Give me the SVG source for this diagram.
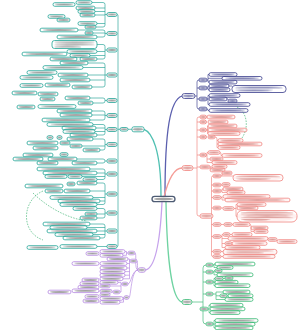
<svg xmlns="http://www.w3.org/2000/svg" width="300" height="330" viewBox="0 0 300 330">
<defs>
<pattern id="p1" patternContentUnits="objectBoundingBox" width="1" height="1"><rect width="1" height="1" fill="#fff"/><rect x="0.08" y="0.27" width="0.84" height="0.46" fill="#a2a2a2"/></pattern>
<pattern id="p2" patternContentUnits="objectBoundingBox" width="1" height="1"><rect width="1" height="1" fill="#fff"/><rect x="0.06" y="0.18" width="0.88" height="0.26" fill="#a2a2a2"/><rect x="0.06" y="0.56" width="0.7" height="0.26" fill="#a2a2a2"/></pattern>
<pattern id="p3" patternContentUnits="objectBoundingBox" width="1" height="1"><rect width="1" height="1" fill="#fff"/><rect x="0.05" y="0.14" width="0.9" height="0.18" fill="#a2a2a2"/><rect x="0.05" y="0.41" width="0.9" height="0.18" fill="#a2a2a2"/><rect x="0.05" y="0.68" width="0.6" height="0.18" fill="#a2a2a2"/></pattern>
<pattern id="pn" patternContentUnits="objectBoundingBox" width="1" height="1"><rect width="1" height="1" fill="#fff"/><rect x="0.08" y="0.27" width="0.84" height="0.46" fill="#8587b5"/></pattern>
<pattern id="pn2" patternContentUnits="objectBoundingBox" width="1" height="1"><rect width="1" height="1" fill="#fff"/><rect x="0.06" y="0.18" width="0.88" height="0.26" fill="#8587b5"/><rect x="0.06" y="0.56" width="0.7" height="0.26" fill="#8587b5"/></pattern>
<pattern id="pr" patternContentUnits="objectBoundingBox" width="1" height="1"><rect width="1" height="1" fill="#fff1f0"/><rect x="0.08" y="0.27" width="0.84" height="0.46" fill="#dd9e9a"/></pattern>
<pattern id="pr2" patternContentUnits="objectBoundingBox" width="1" height="1"><rect width="1" height="1" fill="#fff1f0"/><rect x="0.06" y="0.18" width="0.88" height="0.26" fill="#dd9e9a"/><rect x="0.06" y="0.56" width="0.7" height="0.26" fill="#dd9e9a"/></pattern>
<pattern id="pr4" patternContentUnits="objectBoundingBox" width="1" height="1"><rect width="1" height="1" fill="#fff1f0"/><rect x="0.06" y="0.13" width="0.88" height="0.14" fill="#dd9e9a"/><rect x="0.06" y="0.33" width="0.88" height="0.14" fill="#dd9e9a"/><rect x="0.06" y="0.53" width="0.88" height="0.14" fill="#dd9e9a"/><rect x="0.06" y="0.73" width="0.5" height="0.14" fill="#dd9e9a"/></pattern>
</defs>
<style>
rect{stroke-width:.8;rx:1.8px}
.tl rect{fill:url(#p1);stroke:#22a396}
.nv rect{fill:url(#pn);stroke:#383c8c}
.rd rect{fill:url(#pr);stroke:#f0837d}
.gr rect{fill:url(#p1);stroke:#36b872}
.pu rect{fill:url(#p1);stroke:#b486e0}
.ct path{fill:none;stroke-width:.65}
.ct .m{stroke-width:1.3}
.c1{stroke:#22a396}.c2{stroke:#383c8c}.c3{stroke:#f0837d}.c4{stroke:#36b872}.c5{stroke:#b486e0}
.dash{stroke:#3cb371;stroke-dasharray:1.6 1.2;stroke-width:.7}
</style>
<g id="connectors" class="ct">
<path class="m" stroke="#4fc0b2" d="M161,196 C161,150 152,132 144,129.3"/>
<path class="m" stroke="#5b5fae" d="M165,196 C165,130 170,100 182,96"/>
<path class="m" stroke="#f59d97" d="M164,197 C167,185 172,168 182,168"/>
<path class="m" stroke="#c6a3ec" d="M162,202 C160,245 155,268 145.5,270"/>
<path class="m" stroke="#6fd3a2" d="M166,202 C167,260 172,300 182,302"/>
<path class="c1" d="M117,14.5 Q118,14.5 118,15.5 V245.5 Q118,246.5 117,246.5 M118,129.3 H120 M128,129.3 H132
M92,2.5 H103 Q105,2.5 105,4.5 V25 Q105,27 103,27 H96 M95,8 H105 M95,11.5 H105 M95,15 H105 M97,23.5 H105 M105,14.5 H107
M78,30 H103 Q105,30 105,32 V35 Q105,37 103,37 H97 M93,33 H105 M105,33.5 H107
M97,44.5 H103 Q105,44.5 105,46.5 V57 Q105,59 103,59 H97 M97,51.5 H105 M90,55.5 H105 M105,50 H107
M88,63 H103 Q105,63 105,65 V85 Q105,87 103,87 H92 M83,67.5 H105 M88,75 H105 M90,80 H105 M105,75 H107
M90,98 H103 Q105,98 105,100 V101 Q105,103 103,103 H93 M105,100.5 H107
M92,111 H103 Q105,111 105,113 V118 Q105,120 103,120 H90 M92,115 H105 M105,115.5 H107
M93,124.5 H103 Q105,124.5 105,126.5 V133 Q105,135 103,135 H97 M96,128 H105 M95,131.5 H105 M105,129.5 H107
M93,139 H103 Q105,139 105,141 V148 Q105,150 103,150 H100 M82,146 H105 M105,144.5 H107
M77,159 H103 Q105,159 105,161 Q105,163 103,163 H97 M105,161 H107
M90,169 H103 Q105,169 105,171 V177.5 Q105,179.5 103,179.5 H97 M97,173 H105 M82,176.5 H105 M105,174 H107
M97,183 H103 Q105,183 105,185 V202.5 Q105,204.5 103,204.5 H97 M90,191 H105 M93,197.5 H105 M100,201 H105 M105,194 H107
M97,208.5 H103 Q105,208.5 105,210.5 V216 Q105,218 103,218 H97 M97,214 H105 M105,213 H107
M90,224 H103 Q105,224 105,226 V236 Q105,238 103,238 H100 M87,227.5 H105 M97,231 H105 M93,234.5 H105 M105,231 H107
M97,246.5 H107"/>
<path class="dash" d="M43,191 C22,200 20,232 43,240 M33,193 C45,205 65,218 87,221 M237,107 C246,111 250,126 242,138"/>
<path class="c2" d="M195,96 H197 M199,80 Q197,80 197,82 V107 Q197,109 199,109 M197,88 H199 M197,99 H199
M207,80 H208 M208,74.5 V82.1 M208,74.5 H209 M208,82.1 H209 M208,78.3 H222
M207,88 H208 M208,86 V89.8 M208,86 H209 M208,89.8 H209 M229,86 H232
M207,99 H208 M208,95.5 V104.5 M208,95.5 H209 M208,104.5 H209 M227,99 H228
M207,109 Q208,109 208,110.5 H209"/>
<path class="c3" d="M193,168 H197 M200,117 H199 Q197,117 197,119 V214 Q197,216 199,216 H200 M197,122 H200 M197,130 H200 M197,137 H200 M197,155 H200 M197,167 H200
M206.5,130 H207.5 M207.5,126 V133.5 M207.5,126 H208 M207.5,133.5 H208
M215,137 Q217,137 217,139 V147.5 M217,140.5 H218 M217,144 H218 M217,147.5 H218
M206.5,155 H207 M207,152.5 V162.5 M207,152.5 H208 M207,159 H210 M207,162.5 H212 M220,152.5 Q221,152.5 221,154 V155.5 H222
M210,167 H211 M211,166.5 V170
M213,176 Q211.5,176 211.5,177.5 V255 Q211.5,256.5 213,256.5 M211.5,185 H213 M211.5,191 H213 M211.5,197.5 H213 M211.5,208 H213 M211.5,224.5 H213 M211.5,236.5 H213 M211.5,251.5 H213
M221,176 H233 M222,176 V173
M221,185 H222 M221,191 H222 M222,189 V192.5 M222,189 H223 M222,192.5 H227
M221,197.5 H222 M222,196.5 V200 M222,200 H225
M221,208 H223 M234,208.5 H236 M236,204.5 V216.25 M236,204.5 H237 M236,216.25 H237
M221,224.5 H224 M232,224.5 H233 M250,224.5 Q251,224.5 251,226 V231.5 H254
M221,236.5 H222 M222,234.5 V247.5 M222,234.5 H223 M222,238.5 H228 M222,243.5 H225 M222,247.5 H225 M230,234.5 H232
M221,251.5 H223 M221,256.5 H223"/>
<path class="c4" d="M192,302 H203 M206,265 Q203,265 203,268 V321 Q203,324 206,324 M203,272 H206 M203,282 H206 M203,294 H206
M213,265 H214 M214,264 V267.5 M214,264 H215 M214,267.5 H217
M213,272 H214 M214,270.8 V274.8 M214,270.8 H215 M214,274.8 H217
M213,282 H214 M214,278.5 V285.7 M214,278.5 H215 M214,282.2 H215 M214,285.7 H215 M223,278.5 H225
M213,294 H216 M216,292 V299.5 M216,292 H223 M216,295.8 H220 M216,299.5 H225 M227,295.8 H228
M208,309 H209 M209,305.2 V312.6 M209,305.2 H210 M209,312.6 H210
M213,324 H214 M214,320.5 V327.9 M214,320.5 H215 M214,327.9 H215"/>
<path class="c5" d="M138,270 C134,270 137,253 135,253 M138,270 C137,270 138,261 137,261 M138,270 C132,270 131,284 128,284 M138,270 C131,270 131,297.5 129,297.5
M128,253 H126.5 M126.5,251.5 V255.3 M126.5,251.5 H125 M126.5,255.3 H123
M130,261 H129.5 M129.5,259 V278.8 M129.5,259 H128 M129.5,263.5 H127 M129.5,268 H127 M129.5,271.6 H125 M129.5,275.2 H125 M129.5,278.8 H123
M122,284 H121 M121,282.4 V292 M121,282.4 H118 M121,286 H110 M121,292 H120 M113,292 H112
M124,297.5 H123.5 V302.2 H120"/>
</g>
<g id="n0"><rect x="152" y="196.3" width="23" height="5.4" style="rx:2.7px;stroke:#4d5b73;stroke-width:1.3;fill:url(#p1)"/></g>
<g class="tl">
<g id="t0"><rect x="132" y="126.8" width="12" height="5"/></g>
<g id="t00"><rect x="120" y="127.5" width="8" height="3.6"/></g>
<g id="t1"><rect x="107" y="12.5" width="10" height="4"/></g>
<g id="t2"><rect x="107" y="31.5" width="10" height="4"/></g>
<g id="t3"><rect x="107" y="48" width="10" height="4"/></g>
<g id="t4"><rect x="107" y="73" width="10" height="4"/></g>
<g id="t5"><rect x="107" y="98.5" width="10" height="4"/></g>
<g id="t6"><rect x="107" y="113.5" width="10" height="4"/></g>
<g id="t7"><rect x="107" y="127.5" width="10" height="4"/></g>
<g id="t8"><rect x="107" y="142.5" width="10" height="4"/></g>
<g id="t9"><rect x="107" y="159" width="10" height="4"/></g>
<g id="t10"><rect x="107" y="172" width="10" height="4"/></g>
<g id="t11"><rect x="107" y="192" width="10" height="4"/></g>
<g id="t12"><rect x="107" y="211" width="10" height="4"/></g>
<g id="t13"><rect x="107" y="229" width="10" height="4"/></g>
<g id="t14"><rect x="107" y="244.5" width="10" height="4"/></g>
<g id="ta1"><rect x="76" y="0.7" width="16" height="3.6"/></g>
<g id="ta2"><rect x="53" y="2.7" width="22" height="3.6"/></g>
<g id="ta3"><rect x="76" y="6.2" width="19" height="3.6"/></g>
<g id="ta4"><rect x="78" y="9.7" width="17" height="3.6"/></g>
<g id="ta5"><rect x="80" y="13.2" width="15" height="3.6"/></g>
<g id="ta6"><rect x="48" y="14.7" width="17" height="3.6"/></g>
<g id="ta7"><rect x="57" y="18.2" width="13" height="3.6"/></g>
<g id="ta8"><rect x="78" y="21.7" width="19" height="3.6"/></g>
<g id="ta9"><rect x="85" y="25.2" width="11" height="3.6"/></g>
<g id="tb1"><rect x="40" y="28.2" width="38" height="3.6"/></g>
<g id="tb2"><rect x="85" y="31.2" width="8" height="3.6"/></g>
<g id="tb3"><rect x="57" y="35.2" width="40" height="3.6"/></g>
<g id="tc1"><rect x="52" y="40.5" width="45" height="8" style="rx:2.5px;fill:url(#p3)"/></g>
<g id="tc2"><rect x="67" y="49.7" width="30" height="3.6"/></g>
<g id="tc3"><rect x="22" y="52.2" width="45" height="3.6"/></g>
<g id="tc4"><rect x="70" y="53.7" width="20" height="3.6"/></g>
<g id="tc5"><rect x="50" y="57.2" width="27" height="3.6"/></g>
<g id="tc6"><rect x="80" y="57.2" width="17" height="3.6"/></g>
<g id="td1"><rect x="60" y="61.2" width="28" height="3.6"/></g>
<g id="td2"><rect x="43" y="65.7" width="40" height="3.6"/></g>
<g id="td3"><rect x="27" y="70.7" width="30" height="3.6"/></g>
<g id="td4"><rect x="58" y="73.2" width="30" height="3.6"/></g>
<g id="td5"><rect x="20" y="75.7" width="33" height="3.6"/></g>
<g id="td6"><rect x="60" y="78.2" width="30" height="3.6"/></g>
<g id="td7"><rect x="20" y="83.7" width="23" height="3.6"/></g>
<g id="td8"><rect x="45" y="83.2" width="25" height="3.6"/></g>
<g id="td9"><rect x="72" y="85.2" width="20" height="3.6"/></g>
<g id="te1"><rect x="12" y="91.2" width="25" height="3.6"/></g>
<g id="te2"><rect x="38" y="92.2" width="20" height="3.6"/></g>
<g id="te3"><rect x="65" y="96.2" width="25" height="3.6"/></g>
<g id="te4"><rect x="40" y="97.2" width="15" height="3.6"/></g>
<g id="te5"><rect x="78" y="101.2" width="15" height="3.6"/></g>
<g id="tf1"><rect x="17" y="105.2" width="18" height="3.6"/></g>
<g id="tf2"><rect x="38" y="104.7" width="38" height="3.6"/></g>
<g id="tf3"><rect x="57" y="109.2" width="35" height="3.6"/></g>
<g id="tf4"><rect x="60" y="113.2" width="32" height="3.6"/></g>
<g id="tf5"><rect x="42" y="118.2" width="48" height="3.6"/></g>
<g id="tg1"><rect x="47" y="122.7" width="46" height="3.6"/></g>
<g id="tg2"><rect x="62" y="126.2" width="34" height="3.6"/></g>
<g id="tg3"><rect x="63" y="129.7" width="32" height="3.6"/></g>
<g id="tg4"><rect x="70" y="133.2" width="27" height="3.6"/></g>
<g id="th1"><rect x="47" y="135.7" width="6" height="3.6"/></g>
<g id="th2"><rect x="57" y="135.7" width="5" height="3.6"/></g>
<g id="th3"><rect x="67" y="137.2" width="26" height="3.6"/></g>
<g id="th4"><rect x="27" y="141.2" width="31" height="3.6"/></g>
<g id="th5"><rect x="60" y="141.2" width="10" height="3.6"/></g>
<g id="th6"><rect x="70" y="144.2" width="12" height="3.6"/></g>
<g id="th7"><rect x="33" y="146.2" width="25" height="3.6"/></g>
<g id="th8"><rect x="83" y="148.2" width="17" height="3.6"/></g>
<g id="ti1"><rect x="23" y="153.2" width="30" height="3.6"/></g>
<g id="ti2"><rect x="60" y="152.7" width="8" height="3.6"/></g>
<g id="ti3"><rect x="13" y="157.2" width="30" height="3.6"/></g>
<g id="ti4"><rect x="48" y="157.2" width="29" height="3.6"/></g>
<g id="ti5"><rect x="37" y="161.2" width="21" height="3.6"/></g>
<g id="ti6"><rect x="72" y="161.2" width="25" height="3.6"/></g>
<g id="tj1"><rect x="37" y="167.2" width="53" height="3.6"/></g>
<g id="tj2"><rect x="43" y="171.2" width="54" height="3.6"/></g>
<g id="tj3"><rect x="45" y="174.7" width="22" height="3.6"/></g>
<g id="tj4"><rect x="68" y="174.7" width="14" height="3.6"/></g>
<g id="tj5"><rect x="83" y="177.7" width="14" height="3.6"/></g>
<g id="tk1"><rect x="25" y="184.2" width="38" height="3.6"/></g>
<g id="tk2"><rect x="67" y="182.2" width="8" height="3.6"/></g>
<g id="tk3"><rect x="77" y="181.2" width="20" height="3.6"/></g>
<g id="tk4"><rect x="45" y="189.2" width="18" height="3.6"/></g>
<g id="tk5"><rect x="64" y="189.2" width="26" height="3.6"/></g>
<g id="tk6"><rect x="50" y="195.7" width="43" height="3.6"/></g>
<g id="tk7"><rect x="58" y="199.2" width="42" height="3.6"/></g>
<g id="tk8"><rect x="60" y="202.7" width="37" height="3.6"/></g>
<g id="tl1"><rect x="73" y="206.7" width="24" height="3.6"/></g>
<g id="tl2"><rect x="85" y="212.2" width="12" height="3.6"/></g>
<g id="tl3"><rect x="80" y="216.2" width="17" height="3.6"/></g>
<g id="tm1"><rect x="43" y="222.2" width="47" height="3.6"/></g>
<g id="tm2"><rect x="50" y="225.7" width="37" height="3.6"/></g>
<g id="tm3"><rect x="47" y="229.2" width="50" height="3.6"/></g>
<g id="tm4"><rect x="55" y="232.7" width="38" height="3.6"/></g>
<g id="tm5"><rect x="63" y="236.2" width="37" height="3.6"/></g>
<g id="tn1"><rect x="27" y="245.7" width="31" height="3.6"/></g>
<g id="tn2"><rect x="60" y="244.7" width="37" height="3.6"/></g>
</g>
<g class="nv">
<g id="v0"><rect x="182" y="93.5" width="13" height="5" style="rx:2.5px"/></g>
<g id="v1"><rect x="199" y="78.2" width="8" height="3.6"/></g>
<g id="v2"><rect x="199" y="86.2" width="8" height="3.6"/></g>
<g id="v3"><rect x="199" y="97.2" width="8" height="3.6"/></g>
<g id="v4"><rect x="199" y="107.2" width="8" height="3.6"/></g>
<g id="v5"><rect x="209" y="72.7" width="28" height="3.6"/></g>
<g id="v6"><rect x="222" y="76.5" width="40" height="3.6"/></g>
<g id="v7"><rect x="209" y="80.3" width="28" height="3.6"/></g>
<g id="v8"><rect x="209" y="84.2" width="20" height="3.6"/></g>
<g id="v9"><rect x="232" y="85.5" width="54" height="7" style="rx:3px;fill:url(#pn2)"/></g>
<g id="v10"><rect x="209" y="88" width="21" height="3.6"/></g>
<g id="v11"><rect x="209" y="93.7" width="31" height="3.6"/></g>
<g id="v12"><rect x="209" y="97.2" width="18" height="3.6"/></g>
<g id="v13"><rect x="228" y="99.2" width="9" height="3.6"/></g>
<g id="v14"><rect x="209" y="102.7" width="41" height="3.6"/></g>
<g id="v15"><rect x="209" y="108.7" width="39" height="3.6"/></g>
</g>
<g class="rd">
<g id="r0"><rect x="182" y="165.5" width="11" height="5" style="rx:2.5px"/></g>
<g id="r1"><rect x="200" y="115.2" width="6.5" height="3.6"/></g>
<g id="r2"><rect x="200" y="120.2" width="6.5" height="3.6"/></g>
<g id="r3"><rect x="200" y="128.2" width="6.5" height="3.6"/></g>
<g id="r4"><rect x="200" y="135.2" width="6.5" height="3.6"/></g>
<g id="r5"><rect x="200" y="153.2" width="6.5" height="3.6"/></g>
<g id="r6"><rect x="200" y="165.2" width="10" height="3.6"/></g>
<g id="r7"><rect x="200" y="213.8" width="13" height="4.4" style="rx:2.2px"/></g>
<g id="r8"><rect x="207" y="115.2" width="28" height="3.6"/></g>
<g id="r9"><rect x="208" y="120.2" width="20" height="3.6"/></g>
<g id="r10"><rect x="208" y="124.2" width="29" height="3.6"/></g>
<g id="r11"><rect x="208" y="128.2" width="39" height="3.6"/></g>
<g id="r12"><rect x="208" y="131.7" width="32" height="3.6"/></g>
<g id="r13"><rect x="208" y="135.2" width="7" height="3.6"/></g>
<g id="r14"><rect x="218" y="138.7" width="25" height="3.6"/></g>
<g id="r15"><rect x="218" y="142.2" width="44" height="3.6"/></g>
<g id="r16"><rect x="218" y="145.7" width="22" height="3.6"/></g>
<g id="r17"><rect x="208" y="150.7" width="12" height="3.6"/></g>
<g id="r18"><rect x="222" y="153.7" width="40" height="3.6"/></g>
<g id="r19"><rect x="210" y="157.2" width="13" height="3.6"/></g>
<g id="r20"><rect x="212" y="160.7" width="25" height="3.6"/></g>
<g id="r21"><rect x="212" y="164.7" width="15" height="3.6"/></g>
<g id="r22"><rect x="210" y="168.2" width="15" height="3.6"/></g>
<g id="r23"><rect x="213" y="174.2" width="8" height="3.6"/></g>
<g id="r24"><rect x="213" y="183.2" width="8" height="3.6"/></g>
<g id="r25"><rect x="213" y="189.2" width="8" height="3.6"/></g>
<g id="r26"><rect x="213" y="195.7" width="8" height="3.6"/></g>
<g id="r27"><rect x="213" y="206.2" width="8" height="3.6"/></g>
<g id="r28"><rect x="213" y="222.7" width="8" height="3.6"/></g>
<g id="r29"><rect x="213" y="234.7" width="8" height="3.6"/></g>
<g id="r30"><rect x="213" y="249.7" width="8" height="3.6"/></g>
<g id="r31"><rect x="213" y="254.7" width="8" height="3.6"/></g>
<g id="r32"><rect x="222" y="171.2" width="10" height="3.6"/></g>
<g id="r33"><rect x="233" y="174.5" width="50" height="6.5" style="rx:3px;fill:url(#pr2)"/></g>
<g id="r34"><rect x="222" y="182.7" width="8" height="3.6"/></g>
<g id="r35"><rect x="223" y="187.2" width="20" height="3.6"/></g>
<g id="r36"><rect x="227" y="190.7" width="18" height="3.6"/></g>
<g id="r37"><rect x="223" y="194.7" width="47" height="3.6"/></g>
<g id="r38"><rect x="225" y="198.2" width="65" height="3.6"/></g>
<g id="r39"><rect x="223" y="206.7" width="11" height="3.6"/></g>
<g id="r40"><rect x="237" y="202.7" width="29" height="3.6"/></g>
<g id="r41"><rect x="237" y="206.2" width="21" height="3.6"/></g>
<g id="r42"><rect x="237" y="210.5" width="60" height="11.5" style="rx:5px;fill:url(#pr4)"/></g>
<g id="r43"><rect x="224" y="222.7" width="8" height="3.6"/></g>
<g id="r44"><rect x="233" y="222.7" width="17" height="3.6"/></g>
<g id="r45"><rect x="251" y="226.2" width="17" height="3.6"/></g>
<g id="r46"><rect x="254" y="229.7" width="14" height="3.6"/></g>
<g id="r47"><rect x="223" y="232.7" width="7" height="3.6"/></g>
<g id="r48"><rect x="232" y="232.7" width="20" height="3.6"/></g>
<g id="r49"><rect x="228" y="236.7" width="40" height="3.6"/></g>
<g id="r50"><rect x="268" y="237.7" width="9" height="3.6"/></g>
<g id="r51"><rect x="277" y="239.7" width="20" height="3.6"/></g>
<g id="r52"><rect x="225" y="241.7" width="7" height="3.6"/></g>
<g id="r53"><rect x="232" y="241.7" width="35" height="3.6"/></g>
<g id="r54"><rect x="225" y="245.7" width="35" height="3.6"/></g>
<g id="r55"><rect x="223" y="249.4" width="54" height="5" style="rx:2.5px;fill:url(#pr2)"/></g>
<g id="r56"><rect x="223" y="254.7" width="52" height="3.6"/></g>
</g>
<g class="gr">
<g id="g0"><rect x="182" y="299.5" width="10" height="5" style="rx:2.5px"/></g>
<g id="g1"><rect x="206" y="263.2" width="7" height="3.6"/></g>
<g id="g2"><rect x="206" y="270.2" width="7" height="3.6"/></g>
<g id="g3"><rect x="206" y="280.2" width="7" height="3.6"/></g>
<g id="g4"><rect x="206" y="292.2" width="7" height="3.6"/></g>
<g id="g5"><rect x="200" y="307.2" width="8" height="3.6"/></g>
<g id="g6"><rect x="206" y="322.2" width="7" height="3.6"/></g>
<g id="g7"><rect x="215" y="262.2" width="40" height="3.6"/></g>
<g id="g8"><rect x="217" y="265.7" width="16" height="3.6"/></g>
<g id="g9"><rect x="215" y="269" width="7" height="3.6"/></g>
<g id="g10"><rect x="217" y="273" width="36" height="3.6"/></g>
<g id="g11"><rect x="215" y="276.7" width="8" height="3.6"/></g>
<g id="g12"><rect x="225" y="276.2" width="8" height="3.6"/></g>
<g id="g13"><rect x="215" y="280.4" width="23" height="3.6"/></g>
<g id="g14"><rect x="215" y="283.9" width="35" height="3.6"/></g>
<g id="g15"><rect x="223" y="290.2" width="27" height="3.6"/></g>
<g id="g16"><rect x="220" y="294" width="7" height="3.6"/></g>
<g id="g17"><rect x="228" y="294" width="25" height="3.6"/></g>
<g id="g18"><rect x="225" y="297.7" width="28" height="3.6"/></g>
<g id="g19"><rect x="210" y="303.4" width="33" height="3.6"/></g>
<g id="g20"><rect x="210" y="307.1" width="35" height="3.6"/></g>
<g id="g21"><rect x="210" y="310.8" width="30" height="3.6"/></g>
<g id="g22"><rect x="215" y="318.7" width="43" height="3.6"/></g>
<g id="g23"><rect x="215" y="322.4" width="40" height="3.6"/></g>
<g id="g24"><rect x="215" y="326.1" width="38" height="3.6"/></g>
</g>
<g class="pu">
<g id="u0"><rect x="138" y="267.7" width="7.5" height="4.6" style="rx:2.3px"/></g>
<g id="u1"><rect x="128" y="251.2" width="7" height="3.6"/></g>
<g id="u2"><rect x="130" y="259.2" width="7" height="3.6"/></g>
<g id="u3"><rect x="122" y="282.2" width="6" height="3.6"/></g>
<g id="u4"><rect x="124" y="295.7" width="5" height="3.6"/></g>
<g id="u5"><rect x="100" y="249.7" width="25" height="3.6"/></g>
<g id="u6"><rect x="100" y="253.5" width="23" height="3.6"/></g>
<g id="u7"><rect x="86" y="251.7" width="13" height="3.6"/></g>
<g id="u8"><rect x="107" y="257.2" width="21" height="3.6"/></g>
<g id="u9"><rect x="100" y="261.7" width="27" height="3.6"/></g>
<g id="u10"><rect x="72" y="261.7" width="27" height="3.6"/></g>
<g id="u11"><rect x="100" y="266.2" width="27" height="3.6"/></g>
<g id="u12"><rect x="100" y="269.8" width="25" height="3.6"/></g>
<g id="u13"><rect x="100" y="273.4" width="25" height="3.6"/></g>
<g id="u14"><rect x="100" y="277" width="23" height="3.6"/></g>
<g id="u15"><rect x="100" y="280.6" width="18" height="3.6"/></g>
<g id="u16"><rect x="82" y="278.2" width="17" height="3.6"/></g>
<g id="u17"><rect x="80" y="281.8" width="19" height="3.6"/></g>
<g id="u18"><rect x="100" y="284.2" width="10" height="3.6"/></g>
<g id="u19"><rect x="78" y="285.4" width="21" height="3.6"/></g>
<g id="u20"><rect x="72" y="289" width="27" height="3.6"/></g>
<g id="u21"><rect x="113" y="290.2" width="7" height="3.6"/></g>
<g id="u22"><rect x="100" y="289.4" width="12" height="3.6"/></g>
<g id="u23"><rect x="100" y="293" width="10" height="3.6"/></g>
<g id="u24"><rect x="48" y="290.2" width="23" height="3.6"/></g>
<g id="u25"><rect x="100" y="296.7" width="23" height="3.6"/></g>
<g id="u26"><rect x="85" y="294.7" width="14" height="3.6"/></g>
<g id="u27"><rect x="100" y="300.4" width="20" height="3.6"/></g>
<g id="u28"><rect x="83" y="299.2" width="16" height="3.6"/></g>
</g>
</svg>
